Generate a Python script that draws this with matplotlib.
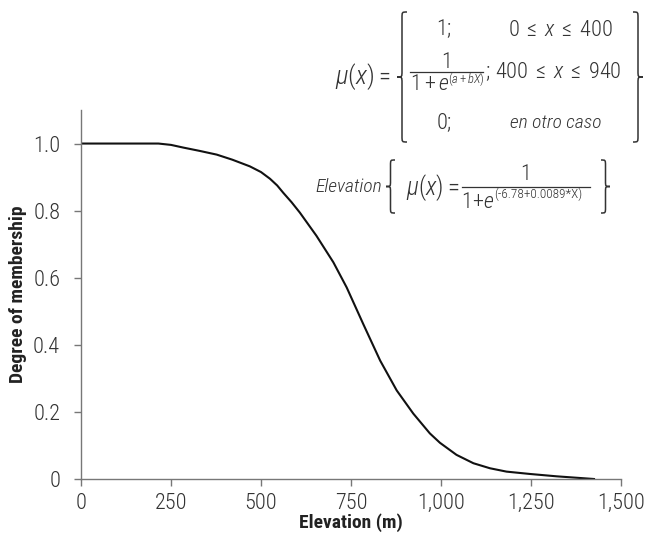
import numpy as np
import matplotlib.pyplot as plt
from matplotlib.path import Path
from matplotlib.patches import PathPatch
from matplotlib.lines import Line2D

# curve (elevation in m, degree of membership)
elevation = [0, 215, 250, 284, 330, 377, 420, 469, 500, 525, 545, 562, 585,
             608, 654, 701, 738, 784, 831, 877, 923, 969, 997, 1043, 1090,
             1136, 1182, 1247, 1321, 1386, 1425]
membership = [1.0, 1.0, 0.996, 0.988, 0.978, 0.967, 0.952, 0.932, 0.915,
              0.895, 0.875, 0.853, 0.825, 0.794, 0.725, 0.646, 0.571, 0.462,
              0.353, 0.264, 0.195, 0.136, 0.108, 0.072, 0.047, 0.032, 0.022,
              0.015, 0.008, 0.003, 0.0]

x_ticks = [0, 250, 500, 750, 1000, 1250, 1500]
x_ticklabels = ['0', '250', '500', '750', '1,000', '1,250', '1,500']
y_ticks = [0, 0.2, 0.4, 0.6, 0.8, 1.0]
y_ticklabels = ['0', '0.2', '0.4', '0.6', '0.8', '1.0']

FONT = ['Roboto Condensed', 'Archivo Narrow', 'Barlow Condensed', 'DejaVu Sans']
plt.rcParams['font.family'] = FONT
plt.rcParams['mathtext.fontset'] = 'custom'
plt.rcParams['mathtext.rm'] = 'Roboto Condensed:light'
plt.rcParams['mathtext.it'] = 'Roboto Condensed:italic:light'
plt.rcParams['mathtext.bf'] = 'Roboto Condensed:bold'

TXT = '#333333'
W, H = 645, 538

fig = plt.figure(figsize=(W / 100, H / 100), dpi=100)
ax = fig.add_axes([81 / W, 1 - 479 / H, 540 / W, 369 / H])

ax.plot(elevation, membership, color='#111111', lw=1.5)

ax.set_xlim(0, 1500)
ax.set_ylim(0, 1.1)
ax.set_xticks(x_ticks)
ax.set_xticklabels(x_ticklabels)
ax.set_yticks(y_ticks)
ax.set_yticklabels(y_ticklabels)
for s in ['top', 'right']:
    ax.spines[s].set_visible(False)
for s in ['left', 'bottom']:
    ax.spines[s].set_color('#777777')
    ax.spines[s].set_linewidth(1.0)
ax.tick_params(axis='both', colors='#777777', labelcolor=TXT, labelsize=16,
               length=5, width=1.0, direction='out')
ax.tick_params(axis='x', pad=5)
ax.tick_params(axis='y', pad=10)
for lbl in ax.get_xticklabels() + ax.get_yticklabels():
    lbl.set_fontweight('light')

ax.set_xlabel('Elevation (m)', fontsize=14, fontweight='bold', color='#222222')
ax.set_ylabel('Degree of membership', fontsize=14, fontweight='bold', color='#222222')
ax.xaxis.set_label_coords(0.5, -0.093)
ax.yaxis.set_label_coords(-0.10, 0.5)


def fx(px):
    return px / W


def fy(py):
    return 1 - py / H


def txt(px, py, s, size=16, ha='left', **kw):
    fig.text(fx(px), fy(py), s, fontsize=size, color=TXT, ha=ha, va='center',
             fontweight='light', **kw)


def hline(x0, x1, py):
    fig.add_artist(Line2D([fx(x0), fx(x1)], [fy(py), fy(py)], color=TXT, lw=0.9,
                          transform=fig.transFigure))


def brace(x, top, bot, w, right=False):
    # curly brace drawn in figure pixels
    mid = (top + bot) / 2
    r = w * 0.6
    if right:
        tip, xm, end = x + w, x + w / 2, x
    else:
        tip, xm, end = x, x + w / 2, x + w
    pts = [(end, top), (xm, top), (xm, top), (xm, top + r),
           (xm, mid - r), (xm, mid), (xm, mid), (tip, mid),
           (xm, mid), (xm, mid), (xm, mid + r),
           (xm, bot - r), (xm, bot), (xm, bot), (end, bot)]
    codes = [Path.MOVETO, Path.CURVE4, Path.CURVE4, Path.CURVE4,
             Path.LINETO, Path.CURVE4, Path.CURVE4, Path.CURVE4,
             Path.CURVE4, Path.CURVE4, Path.CURVE4,
             Path.LINETO, Path.CURVE4, Path.CURVE4, Path.CURVE4]
    verts = [(fx(a), fy(b)) for a, b in pts]
    fig.patches.append(PathPatch(Path(verts, codes), transform=fig.transFigure,
                                 fill=False, lw=1.1, color='#333333'))


# general membership function
txt(335, 77, r'$\mu(x)$', size=19)
txt(378, 78, '=', size=18)
brace(397, 12, 142, 10)
txt(444, 30, '1;', ha='center')
txt(508, 30, r'$0\;\leq\;x\;\leq\;400$')
txt(447, 62, '1', ha='center')
hline(410, 483, 72)
txt(410, 84, r'$1+e$')
txt(448, 79, r'$(a+bX)$', size=9)
txt(485, 72, r'$;\,400\;\leq\;x\;\leq\;940$')
txt(444, 123, '0;', ha='center')
txt(510, 123, 'en otro caso', size=14, style='italic')
brace(633, 12, 142, 10, right=True)

# fitted function for elevation
txt(382, 187, 'Elevation', size=14, style='italic', ha='right')
brace(386, 160, 213, 9)
txt(406, 188, r'$\mu(x)$', size=18)
txt(447, 189, '=', size=18)
txt(526, 174, '1', ha='center')
hline(462, 590, 187)
txt(461, 202, r'$1\!+\!e$')
txt(494, 194, '(-6.78+0.0089*X)', size=9.5)
brace(601, 160, 213, 9, right=True)

fig.savefig('out.png', dpi=100)
